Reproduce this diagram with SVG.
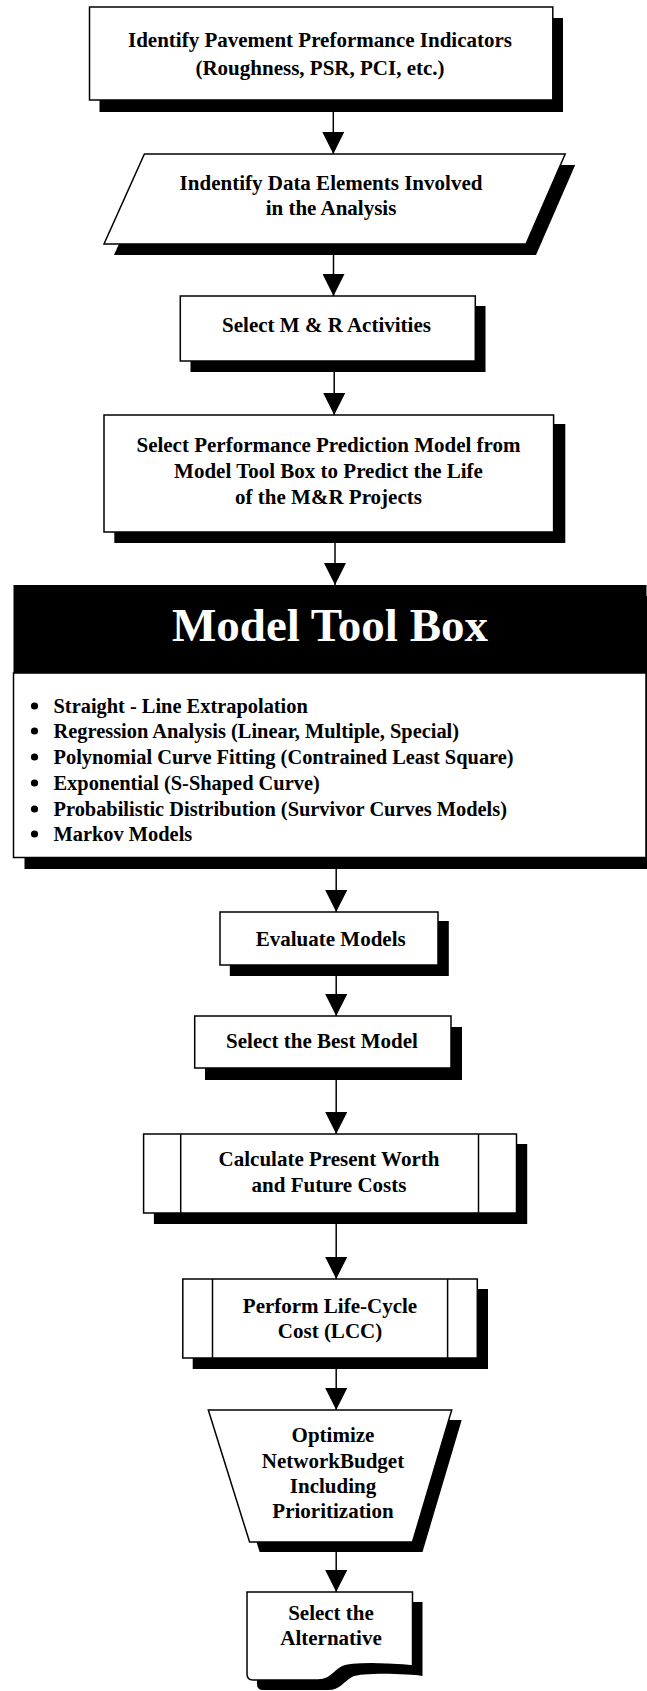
<svg xmlns="http://www.w3.org/2000/svg" width="647" height="1691" viewBox="0 0 647 1691">
<defs>
<style>
.box{fill:#fff;stroke:#000;stroke-width:1.5}
.sh{fill:#000}
.t{font-family:"Liberation Serif","Times New Roman",serif;font-weight:bold;font-size:21px;fill:#000;text-anchor:middle}
.b{font-family:"Liberation Serif","Times New Roman",serif;font-weight:bold;font-size:20.4px;fill:#000}
.title{font-family:"Liberation Serif","Times New Roman",serif;font-weight:bold;font-size:47px;fill:#fff;text-anchor:middle}
.ln{fill:none;stroke:#000;stroke-width:1.5}
.c{stroke:#000;stroke-width:1.5;fill:none}
</style>
<marker id="ah" viewBox="0 0 22 22" refX="22" refY="11" markerWidth="22" markerHeight="22" markerUnits="userSpaceOnUse" orient="auto">
<path d="M0,0 L22,11 L0,22 Z" fill="#000"/>
</marker>
</defs>
<rect width="647" height="1691" fill="#fff"/>

<g id="n1">
<rect class="sh" x="99.5" y="18" width="463.5" height="94"/>
<rect class="box" x="89.5" y="7" width="463.3" height="93"/>
<text class="t" x="320" y="47">Identify Pavement Preformance Indicators</text>
<text class="t" x="320" y="75">(Roughness, PSR, PCI, etc.)</text>
</g>

<g id="n2">
<polygon class="sh" points="154.4,165 575.2,165 536,255 114,255"/>
<polygon class="box" points="144.4,154 565.2,154 526,244 104,244"/>
<text class="t" x="331" y="190">Indentify Data Elements Involved</text>
<text class="t" x="331" y="215">in the Analysis</text>
</g>

<g id="n3">
<rect class="sh" x="190.5" y="306" width="295" height="66"/>
<rect class="box" x="180.3" y="296" width="295" height="65"/>
<text class="t" x="326.5" y="332">Select M &amp; R Activities</text>
</g>

<g id="n4">
<rect class="sh" x="114.3" y="424" width="451" height="119"/>
<rect class="box" x="104" y="415" width="449.6" height="117"/>
<text class="t" x="328.5" y="452">Select Performance Prediction Model from</text>
<text class="t" x="328.5" y="478">Model Tool Box to Predict the Life</text>
<text class="t" x="328.5" y="504">of the M&amp;R Projects</text>
</g>

<g id="n5">
<rect class="sh" x="24.5" y="596" width="640" height="273"/>
<rect x="13.5" y="585" width="633" height="88" fill="#000"/>
<rect class="box" x="13.5" y="673" width="632.5" height="184.5"/>
<text class="title" x="330" y="641">Model Tool Box</text>
<g fill="#000">
<circle cx="34.5" cy="706" r="3.6"/>
<circle cx="34.5" cy="731" r="3.6"/>
<circle cx="34.5" cy="757" r="3.6"/>
<circle cx="34.5" cy="783" r="3.6"/>
<circle cx="34.5" cy="809" r="3.6"/>
<circle cx="34.5" cy="834" r="3.6"/>
</g>
<text class="b" x="53.5" y="713">Straight - Line Extrapolation</text>
<text class="b" x="53.5" y="738">Regression Analysis (Linear, Multiple, Special)</text>
<text class="b" x="53.5" y="764">Polynomial Curve Fitting (Contrained Least Square)</text>
<text class="b" x="53.5" y="790">Exponential (S-Shaped Curve)</text>
<text class="b" x="53.5" y="816">Probabilistic Distribution (Survivor Curves Models)</text>
<text class="b" x="53.5" y="841">Markov Models</text>
</g>

<g id="n6">
<rect class="sh" x="229.8" y="921" width="219" height="55"/>
<rect class="box" x="220" y="912" width="218" height="53"/>
<text class="t" x="330.7" y="946">Evaluate Models</text>
</g>

<g id="n7">
<rect class="sh" x="205" y="1027" width="257" height="53"/>
<rect class="box" x="194.7" y="1016" width="256.3" height="52"/>
<text class="t" x="322" y="1048">Select the Best Model</text>
</g>

<g id="n8">
<rect class="sh" x="153.9" y="1144" width="373.3" height="80"/>
<rect class="box" x="143.6" y="1134" width="372.9" height="79"/>
<line class="ln" x1="180.7" y1="1134" x2="180.7" y2="1213"/>
<line class="ln" x1="478.5" y1="1134" x2="478.5" y2="1213"/>
<text class="t" x="329" y="1166">Calculate Present Worth</text>
<text class="t" x="329" y="1192">and Future Costs</text>
</g>

<g id="n9">
<rect class="sh" x="192.7" y="1289" width="295.3" height="80"/>
<rect class="box" x="182.8" y="1279" width="294.5" height="79"/>
<line class="ln" x1="212.5" y1="1279" x2="212.5" y2="1358"/>
<line class="ln" x1="447.6" y1="1279" x2="447.6" y2="1358"/>
<text class="t" x="330" y="1313">Perform Life-Cycle</text>
<text class="t" x="330" y="1338">Cost (LCC)</text>
</g>

<g id="n10">
<polygon class="sh" points="218.3,1420 461.7,1420 422.5,1552 259.6,1552"/>
<polygon class="box" points="208.3,1410 451.7,1410 412.5,1542 249.6,1542"/>
<text class="t" x="333" y="1442">Optimize</text>
<text class="t" x="333" y="1468">NetworkBudget</text>
<text class="t" x="333" y="1493">Including</text>
<text class="t" x="333" y="1518">Prioritization</text>
</g>

<g id="n11">
<path class="sh" d="M257,1602 H422.5 V1676 C410,1674 362,1672 352,1677 C343,1682 340,1690 328,1690 H263 Q257,1690 257,1684 Z"/>
<path class="box" d="M247,1592 H412.5 V1666 C400,1664 352,1662 342,1667 C333,1672 330,1680 318,1680 H253 Q247,1680 247,1674 Z"/>
<text class="t" x="331" y="1620">Select the</text>
<text class="t" x="331" y="1645">Alternative</text>
</g>

<g id="connectors">
<line class="c" x1="333.3" y1="100" x2="333.3" y2="154" marker-end="url(#ah)"/>
<line class="c" x1="333.5" y1="244" x2="333.5" y2="296" marker-end="url(#ah)"/>
<line class="c" x1="334.2" y1="361" x2="334.2" y2="415" marker-end="url(#ah)"/>
<line class="c" x1="335" y1="532" x2="335" y2="585" marker-end="url(#ah)"/>
<line class="c" x1="336.2" y1="869" x2="336.2" y2="912" marker-end="url(#ah)"/>
<line class="c" x1="336.2" y1="965" x2="336.2" y2="1016" marker-end="url(#ah)"/>
<line class="c" x1="336.2" y1="1068" x2="336.2" y2="1134" marker-end="url(#ah)"/>
<line class="c" x1="336.2" y1="1213" x2="336.2" y2="1279" marker-end="url(#ah)"/>
<line class="c" x1="336.2" y1="1358" x2="336.2" y2="1410" marker-end="url(#ah)"/>
<line class="c" x1="336.2" y1="1542" x2="336.2" y2="1592" marker-end="url(#ah)"/>
</g>
</svg>
